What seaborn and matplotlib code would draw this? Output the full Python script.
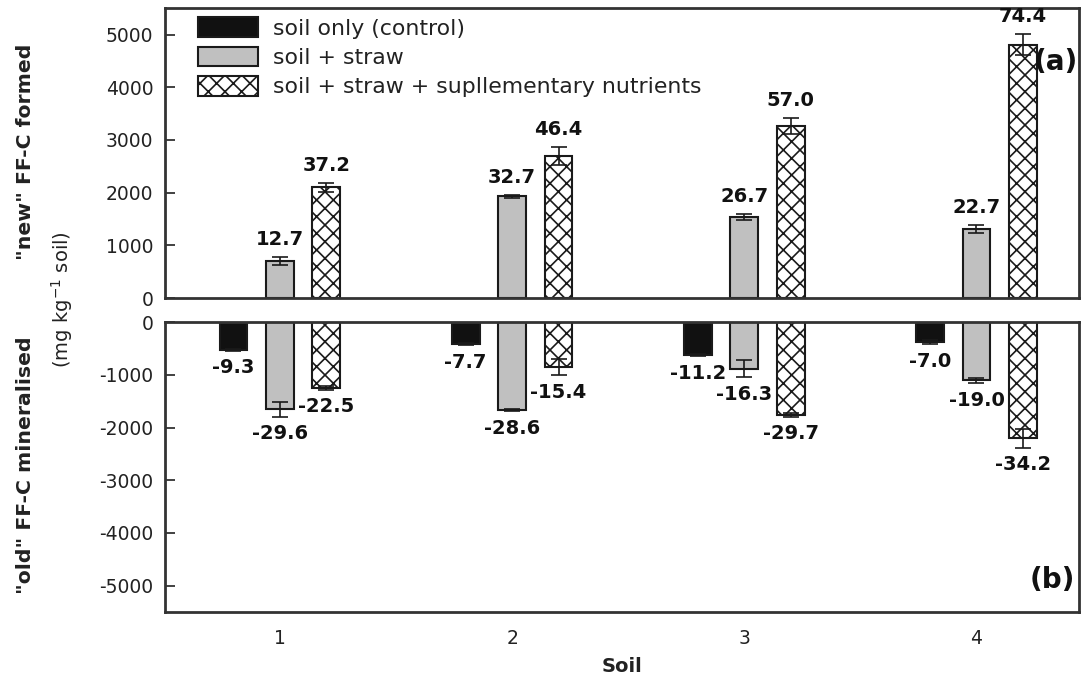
import numpy as np
import pandas as pd
import matplotlib
matplotlib.use("Agg")
import matplotlib.pyplot as plt
from matplotlib.patches import Patch
from matplotlib.container import BarContainer
import seaborn as sns

soils = ["1", "2", "3", "4"]
treatments = ["soil only (control)", "soil + straw",
              "soil + straw + supllementary nutrients"]

# (a) "new" FF-C formed (mg kg-1 soil)
new_control = [0, 0, 0, 0]
new_straw = [700, 1930, 1540, 1310]
new_nutr = [2100, 2700, 3270, 4810]
new_control_err = [0, 0, 0, 0]
new_straw_err = [80, 30, 60, 80]
new_nutr_err = [90, 170, 150, 200]
new_straw_lab = ["12.7", "32.7", "26.7", "22.7"]
new_nutr_lab = ["37.2", "46.4", "57.0", "74.4"]

# (b) "old" FF-C mineralised (mg kg-1 soil)
old_control = [-520, -420, -620, -380]
old_straw = [-1650, -1670, -880, -1100]
old_nutr = [-1250, -850, -1760, -2200]
old_control_err = [20, 20, 20, 40]
old_straw_err = [140, 20, 160, 50]
old_nutr_err = [30, 150, 30, 180]
old_control_lab = ["-9.3", "-7.7", "-11.2", "-7.0"]
old_straw_lab = ["-29.6", "-28.6", "-16.3", "-19.0"]
old_nutr_lab = ["-22.5", "-15.4", "-29.7", "-34.2"]

colors = ["#111111", "#c0c0c0", "#ffffff"]
hatches = [None, None, "xx"]

sns.set_style("white")
plt.rcParams["font.family"] = ["DejaVu Sans"]
plt.rcParams["hatch.linewidth"] = 1.2
plt.rcParams["axes.unicode_minus"] = False

def frame(vals):
    rows = []
    for t, series in zip(treatments, vals):
        for s, v in zip(soils, series):
            rows.append({"Soil": s, "Treatment": t, "value": v})
    return pd.DataFrame(rows)

fig = plt.figure(figsize=(10.82, 6.82), dpi=100)
ax_a = fig.add_axes([0.1525, 0.563, 0.845, 0.425])
ax_b = fig.add_axes([0.1525, 0.1026, 0.845, 0.425])

panels = [
    (ax_a, [new_control, new_straw, new_nutr],
     [new_control_err, new_straw_err, new_nutr_err],
     [None, new_straw_lab, new_nutr_lab], 1),
    (ax_b, [old_control, old_straw, old_nutr],
     [old_control_err, old_straw_err, old_nutr_err],
     [old_control_lab, old_straw_lab, old_nutr_lab], -1),
]

for ax, vals, errs, labs, sign in panels:
    df = frame(vals)
    sns.barplot(data=df, x="Soil", y="value", hue="Treatment",
                order=soils, hue_order=treatments, palette=colors,
                width=0.6, gap=0.4, errorbar=None, ax=ax,
                edgecolor="#1a1a1a", linewidth=1.5, legend=False)
    bar_conts = [c for c in ax.containers if isinstance(c, BarContainer)]
    for i, cont in enumerate(bar_conts):
        for j, bar in enumerate(cont.patches):
            if hatches[i]:
                bar.set_hatch(hatches[i])
            if vals[i][j] == 0:
                bar.set_visible(False)
                continue
            xc = bar.get_x() + bar.get_width() / 2
            h = bar.get_height()
            e = errs[i][j]
            ax.errorbar(xc, h, yerr=e, fmt="none", ecolor="#1a1a1a",
                        elinewidth=1.2, capsize=6, capthick=1.2, zorder=5)
            if labs[i] is not None:
                ax.annotate(labs[i][j], xy=(xc, h + sign * e),
                            xytext=(0, sign * 12.5),
                            textcoords="offset points",
                            ha="center", va="center",
                            fontsize=14, fontweight="bold",
                            color="#111111")
    ax.set_xlim(-0.495, 3.443)
    ax.set_xlabel("")
    ax.set_ylabel("")
    for sp in ax.spines.values():
        sp.set_linewidth(2)
        sp.set_color("#333333")
    ax.tick_params(axis="y", direction="in", length=7, width=1.3,
                   labelsize=13.5, labelcolor="#222222", color="#333333",
                   left=True, pad=8.5)
    ax.tick_params(axis="x", bottom=False, length=0)

ax_a.set_ylim(0, 5500)
ax_a.set_yticks([0, 1000, 2000, 3000, 4000, 5000])
ax_a.set_xticklabels([])
ax_b.set_ylim(-5500, 0)
ax_b.set_yticks([0, -1000, -2000, -3000, -4000, -5000])
ax_b.tick_params(axis="x", labelsize=13.5, labelcolor="#222222", pad=12)
ax_b.set_xlabel("Soil", fontsize=14, fontweight="bold", labelpad=7,
                color="#222222")

fig.text(0.024, 0.777, '"new" FF-C formed', rotation=90, ha="center",
         va="center", fontsize=14.7, fontweight="bold", color="#222222")
fig.text(0.024, 0.318, '"old" FF-C mineralised', rotation=90, ha="center",
         va="center", fontsize=14.7, fontweight="bold", color="#222222")
fig.text(0.057, 0.56, r"(mg kg$^{-1}$ soil)", rotation=90, ha="center",
         va="center", fontsize=14, color="#222222")

ax_a.text(0.998, 0.814, "(a)", transform=ax_a.transAxes, ha="right",
          va="center", fontsize=20, fontweight="bold", color="#111111")
ax_b.text(0.995, 0.11, "(b)", transform=ax_b.transAxes, ha="right",
          va="center", fontsize=20, fontweight="bold", color="#111111")

handles = [Patch(facecolor=c, edgecolor="#1a1a1a", hatch=h, linewidth=1.5)
           for c, h in zip(colors, hatches)]
ax_a.legend(handles, treatments, loc="upper left",
            bbox_to_anchor=(0.036, 0.968), frameon=False, fontsize=15.8,
            handlelength=2.75, handleheight=1.0, labelspacing=0.36,
            handletextpad=0.68, borderpad=0, borderaxespad=0,
            labelcolor="#222222")

fig.savefig("out.png", dpi=100)
